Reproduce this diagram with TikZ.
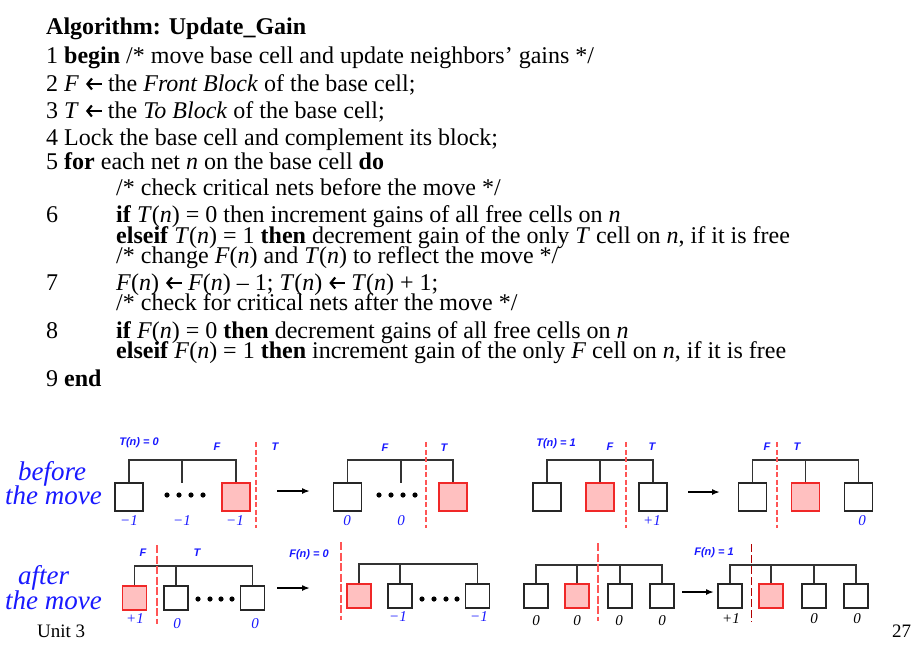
\documentclass[tikz,border=0pt]{standalone}
\usepackage{graphicx}
\usepackage{fontspec}
\setmainfont{Liberation Serif}
\setsansfont{Liberation Sans}
\usetikzlibrary{arrows.meta}
\definecolor{lblue}{RGB}{25,25,255}
\definecolor{cutred}{RGB}{255,85,85}
\definecolor{cellred}{RGB}{255,192,192}
\definecolor{celledge}{RGB}{240,40,40}
\newsavebox{\larbox}
\newcommand{\lar}{\usebox{\larbox}}
\tikzset{
  alg/.style={anchor=base west, inner sep=0pt, font=\fontsize{24}{27}\selectfont},
  cell/.style={draw=black!85, line width=1.3pt, minimum width=28pt, minimum height=28pt, inner sep=0pt, fill=white},
  rcell/.style={cell, fill=cellred, draw=celledge},
  scell/.style={cell, minimum width=24pt, minimum height=24pt},
  srcell/.style={scell, fill=cellred, draw=celledge},
  net/.style={draw=black!80, line width=1.2pt},
  cut/.style={draw=cutred, line width=1.8pt, dash pattern=on 5pt off 2.5pt},
  cutlong/.style={draw=cutred, line width=1.8pt, dash pattern=on 8pt off 2.5pt},
  cutthin/.style={draw=red!70!black, line width=0.9pt, dash pattern=on 8pt off 3pt},
  mv/.style={draw=black, line width=1.6pt, -{Latex[length=8pt,width=6pt]}},
  lab/.style={text=lblue, inner sep=0pt, font=\sffamily\bfseries\itshape\fontsize{11}{12}\selectfont},
  num/.style={text=lblue, inner sep=0pt, font=\itshape\fontsize{15}{16}\selectfont},
  numk/.style={num, text=black},
  side/.style={text=lblue, anchor=base west, inner sep=0pt, font=\itshape\fontsize{27}{28}\selectfont},
  foot/.style={anchor=base west, inner sep=0pt, font=\fontsize{19}{20}\selectfont},
  dotf/.style={fill=black}
}
\begin{document}
\sbox{\larbox}{\begin{pgfpicture}%
\pgfsetbaseline{0pt}%
\pgfpathrectangle{\pgfpoint{0pt}{0pt}}{\pgfpoint{17pt}{1pt}}\pgfusepath{use as bounding box}%
\pgfsetlinewidth{1.4pt}%
\pgfsetarrowsstart{Straight Barb[length=4.5pt,width=11pt,line width=2.2pt]}%
\pgfpathmoveto{\pgfpoint{1pt}{7pt}}\pgfpathlineto{\pgfpoint{17pt}{7pt}}\pgfusepath{stroke}%
\end{pgfpicture}}
\begin{tikzpicture}[x=1pt,y=-1pt]
\useasboundingbox[fill=white] (0,0) rectangle (923,649);

% ---------------- algorithm text ----------------
\node[alg] (t0) at (46,34) {\textbf{Algorithm: Update\_Gain}};
\node[alg] (t1) at (46,63) {1 \textbf{begin} /* move base cell and update neighbors’ gains */};
\node[alg] (t2) at (46,91) {2 \textit{F} \lar{} the \textit{Front Block} of the base cell;};
\node[alg] (t3) at (46,118) {3 \textit{T} \lar{} the \textit{To Block} of the base cell;};
\node[alg] (t4) at (46,145) {4 Lock the base cell and complement its block;};
\node[alg] (t5) at (46,169) {5 \textbf{for} each net \textit{n} on the base cell \textbf{do}};
\node[alg] (t6) at (116,195) {/* check critical nets before the move */};
\node[alg] (t7n) at (46,222) {6};
\node[alg] (t7) at (116,222) {\textbf{if} \textit{T}(\textit{n}) = 0 then increment gains of all free cells on \textit{n}};
\node[alg] (t8) at (116,243) {\textbf{elseif} \textit{T}(\textit{n}) = 1 \textbf{then} decrement gain of the only \textit{T} cell on \textit{n}, if it is free};
\node[alg] (t9) at (116,263) {/* change \textit{F}(\textit{n}) and \textit{T}(\textit{n}) to reflect the move */};
\node[alg] (t10n) at (46,290) {7};
\node[alg] (t10) at (116,290) {\textit{F}(\textit{n}) \lar{} \textit{F}(\textit{n}) – 1; \textit{T}(\textit{n}) \lar{} \textit{T}(\textit{n}) + 1;};
\node[alg] (t11) at (116,310) {/* check for critical nets after the move */};
\node[alg] (t12n) at (46,338) {8};
\node[alg] (t12) at (116,338) {\textbf{if} \textit{F}(\textit{n}) = 0 \textbf{then} decrement gains of all free cells on \textit{n}};
\node[alg] (t13) at (116,358) {\textbf{elseif} \textit{F}(\textit{n}) = 1 \textbf{then} increment gain of the only \textit{F} cell on \textit{n}, if it is free};
\node[alg] (t14) at (46,386) {9 \textbf{end}};

% ---------------- side labels ----------------
\node[side] (s1) at (18,480) {before};
\node[side] (s2) at (5,504) {the move};
\node[side] (s3) at (18,584) {after};
\node[side] (s4) at (5,609) {the move};

% ---------------- D1: before, T(n)=0 ----------------
\node[cell] (a1) at (129,497) {};
\node[rcell] (a3) at (236,497) {};
\coordinate (an) at (182,460);
\coordinate (a2) at (182,483);
\draw[net] (a1.north) |- (an) -| (a3.north);
\draw[net] (an) -- (a2);
\foreach \x in {167,179,191,203} \fill[dotf] (\x,495) circle (2.6pt);
\coordinate (ac1) at (256,442); \coordinate (ac2) at (256,528);
\draw[cut] (ac1) -- (ac2);
\node[lab] (aT) at (139,443) {T(n) = 0};
\node[lab] (aF) at (217,447) {F};
\node[lab] (aTT) at (275,447) {T};
\node[num] (ag1) at (129,521) {−1};
\node[num] (ag2) at (182,521) {−1};
\node[num] (ag3) at (235,521) {−1};
\coordinate (am1) at (277,491); \coordinate (am2) at (310,491);
\draw[mv] (am1) -- (am2);

% ---------------- D2 ----------------
\node[cell] (b1) at (347.5,497) {};
\node[rcell] (b3) at (453,497) {};
\coordinate (bn) at (401,460);
\coordinate (b2) at (401,483);
\draw[net] (b1.north) |- (bn) -| (b3.north);
\draw[net] (bn) -- (b2);
\foreach \x in {379,391,403,415} \fill[dotf] (\x,495) circle (2.6pt);
\coordinate (bc1) at (426,442); \coordinate (bc2) at (426,528);
\draw[cut] (bc1) -- (bc2);
\node[lab] (bF) at (385,448) {F};
\node[lab] (bT) at (444,448) {T};
\node[num] (bg1) at (347,521) {0};
\node[num] (bg2) at (401,521) {0};

% ---------------- D3: before, T(n)=1 ----------------
\node[cell] (c1) at (547,497) {};
\node[rcell] (c2) at (600,497) {};
\node[cell] (c3) at (653,497) {};
\coordinate (cn) at (600,460);
\draw[net] (c1.north) |- (cn) -| (c3.north);
\draw[net] (c2.north) -- (cn);
\coordinate (cc1) at (626,442); \coordinate (cc2) at (626,528);
\draw[cut] (cc1) -- (cc2);
\node[lab] (cT) at (556,444) {T(n) = 1};
\node[lab] (cF) at (610,447) {F};
\node[lab] (cTT) at (652,447) {T};
\node[num] (cg3) at (652,521) {+1};
\coordinate (cm1) at (688,492); \coordinate (cm2) at (720,492);
\draw[mv] (cm1) -- (cm2);

% ---------------- D4 ----------------
\node[cell] (d1) at (752.5,497) {};
\node[rcell] (d2) at (805.5,497) {};
\node[cell] (d3) at (858.5,497) {};
\coordinate (dn) at (805.5,460);
\draw[net] (d1.north) |- (dn) -| (d3.north);
\draw[net] (d2.north) -- (dn);
\coordinate (dc1) at (777,442); \coordinate (dc2) at (777,528);
\draw[cut] (dc1) -- (dc2);
\node[lab] (dF) at (767,447) {F};
\node[lab] (dT) at (797,447) {T};
\node[num] (dg3) at (862,521) {0};

% ---------------- D5: after, F side ----------------
\node[srcell] (e1) at (134.5,598) {};
\node[scell] (e2) at (176,598) {};
\node[scell] (e3) at (252.5,598) {};
\coordinate (en) at (176,566);
\draw[net] (e1.north) |- (en) -| (e3.north);
\draw[net] (e2.north) -- (en);
\foreach \x in {198,210,221,232} \fill[dotf] (\x,599) circle (2.6pt);
\coordinate (ec1) at (157,545); \coordinate (ec2) at (157,624);
\draw[cutlong] (ec1) -- (ec2);
\node[lab] (eF) at (143,553) {F};
\node[lab] (eT) at (197,553) {T};
\node[num] (eg1) at (135,619) {+1};
\node[num] (eg2) at (177,624) {0};
\node[num] (eg3) at (255,624) {0};
\coordinate (em1) at (277,588); \coordinate (em2) at (310,588);
\draw[mv] (em1) -- (em2);

% ---------------- D6: F(n)=0 ----------------
\node[srcell] (f1) at (359,596) {};
\node[scell] (f2) at (400,596) {};
\node[scell] (f3) at (477.5,596) {};
\coordinate (fn) at (400,564);
\draw[net] (f1.north) |- (fn) -| (f3.north);
\draw[net] (f2.north) -- (fn);
\foreach \x in {422,434,446,457} \fill[dotf] (\x,599) circle (2.6pt);
\coordinate (fc1) at (341,542); \coordinate (fc2) at (341,620);
\draw[cutlong] (fc1) -- (fc2);
\node[lab] (fT) at (309,555) {F(n) = 0};
\node[num] (fg2) at (398,617) {−1};
\node[num] (fg3) at (479,617) {−1};

% ---------------- D7 ----------------
\node[scell] (g1) at (536,596) {};
\node[srcell] (g2) at (577,596) {};
\node[scell] (g3) at (620,596) {};
\node[scell] (g4) at (662,596) {};
\coordinate (gn) at (577,565);
\draw[net] (g1.north) |- (gn) -| (g4.north);
\draw[net] (g2.north) -- (gn);
\draw[net] (g3.north) -- (g3.north |- gn);
\coordinate (gc1) at (598,543); \coordinate (gc2) at (598,621);
\draw[cutlong] (gc1) -- (gc2);
\node[numk] (gg1) at (536,621) {0};
\node[numk] (gg2) at (577,621) {0};
\node[numk] (gg3) at (619,621) {0};
\node[numk] (gg4) at (662,621) {0};
\coordinate (gm1) at (682,592); \coordinate (gm2) at (714,592);
\draw[mv] (gm1) -- (gm2);

% ---------------- D8: F(n)=1 ----------------
\node[scell] (h1) at (730,596) {};
\node[srcell] (h2) at (771,596) {};
\node[scell] (h3) at (814,596) {};
\node[scell] (h4) at (856,596) {};
\coordinate (hn) at (771,565);
\draw[net] (h1.north) |- (hn) -| (h4.north);
\draw[net] (h2.north) -- (hn);
\draw[net] (h3.north) -- (h3.north |- hn);
\coordinate (hc1) at (751,544); \coordinate (hc2) at (751,622);
\draw[cutthin] (hc1) -- (hc2);
\node[lab] (hT) at (714,553) {F(n) = 1};
\node[numk] (hg1) at (731,619) {+1};
\node[numk] (hg3) at (814,619) {0};
\node[numk] (hg4) at (857,619) {0};

% ---------------- footer ----------------
\node[foot] (u3) at (37,637) {Unit 3};
\node[foot] (pg) at (892,637) {27};
\end{tikzpicture}
\end{document}
